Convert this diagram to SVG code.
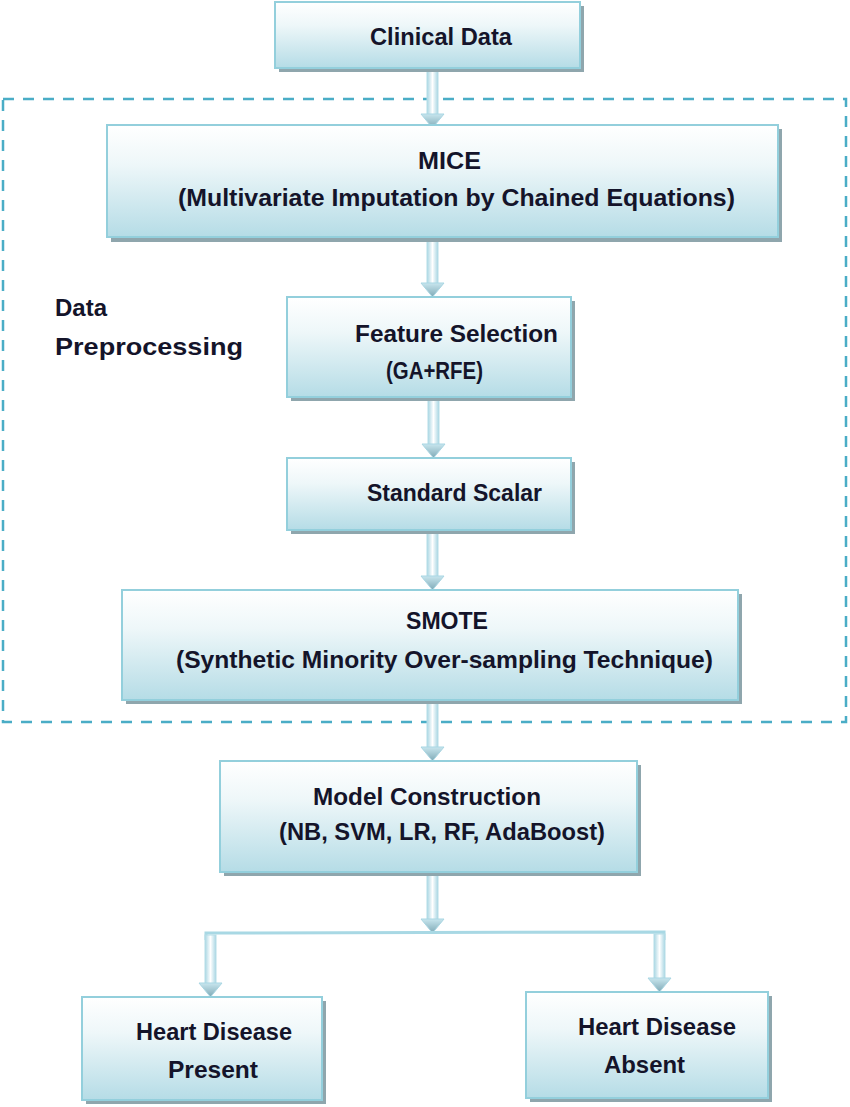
<svg xmlns="http://www.w3.org/2000/svg" width="850" height="1107" viewBox="0 0 850 1107">
<defs>
<linearGradient id="boxg" x1="0" y1="0" x2="0" y2="1">
<stop offset="0" stop-color="#ffffff"/>
<stop offset="0.35" stop-color="#eef7f9"/>
<stop offset="1" stop-color="#b5dce6"/>
</linearGradient>
<linearGradient id="arrg" x1="0" y1="0" x2="1" y2="0">
<stop offset="0" stop-color="#a9d6e3"/>
<stop offset="0.5" stop-color="#ffffff"/>
<stop offset="1" stop-color="#a9d6e3"/>
</linearGradient>
<linearGradient id="headg" x1="0" y1="0" x2="0" y2="1">
<stop offset="0" stop-color="#c8e6ee"/>
<stop offset="1" stop-color="#7fa9b6"/>
</linearGradient>
</defs>
<style>
.shadow{fill:#8fa6ad;}
.box{fill:url(#boxg);stroke:#93cfdc;stroke-width:2;}
.t{font-family:"Liberation Sans",Arial,sans-serif;font-weight:bold;font-size:24px;fill:#14142a;}
.shaft{fill:url(#arrg);stroke:#b5dde7;stroke-width:1;}
.head{fill:url(#headg);stroke:#a9d6e3;stroke-width:1;}
.dash{fill:none;stroke:#4aadc6;stroke-width:2.5;stroke-dasharray:11 9;}
.branch{fill:none;stroke:#a8d8e4;stroke-width:3;}
</style>
<rect class="dash" x="3" y="99" width="843" height="623"/>
<text class="t" x="55" y="316">Data</text>
<text class="t" x="55" y="355" textLength="188" lengthAdjust="spacingAndGlyphs">Preprocessing</text>
<g id="connectors">
<g id="a1"><rect class="shaft" x="427" y="68" width="11" height="48"/><polygon class="head" points="421,114 444,114 432.5,128"/></g>
<g id="a2"><rect class="shaft" x="427" y="239" width="11" height="46"/><polygon class="head" points="421,283 444,283 432.5,297"/></g>
<g id="a3"><rect class="shaft" x="428" y="399" width="11" height="47"/><polygon class="head" points="422,444 445,444 433.5,458"/></g>
<g id="a4"><rect class="shaft" x="427" y="532" width="11" height="46"/><polygon class="head" points="421,576 444,576 432.5,590"/></g>
<g id="a5"><rect class="shaft" x="427" y="702" width="11" height="47"/><polygon class="head" points="421,747 444,747 432.5,761"/></g>
<g id="a6"><rect class="shaft" x="427" y="874" width="11" height="47"/><polygon class="head" points="421,919 444,919 432.5,933"/></g>
<polyline class="branch" points="206,940 206,933 664,932 664,940"/>
<g id="a7"><rect class="shaft" x="205" y="935" width="11" height="49"/><polygon class="head" points="199,983 222,983 210.5,997"/></g>
<g id="a8"><rect class="shaft" x="654" y="934" width="11" height="45"/><polygon class="head" points="648,978 671,978 659.5,992"/></g>
</g>
<g id="n-clinical">
<rect class="shadow" x="279" y="6" width="305" height="66"/>
<rect class="box" x="275" y="2" width="305" height="66"/>
<text class="t" x="370" y="45" textLength="142" lengthAdjust="spacingAndGlyphs">Clinical Data</text>
</g>
<g id="n-mice">
<rect class="shadow" x="111" y="129" width="671" height="113"/>
<rect class="box" x="107" y="125" width="671" height="112"/>
<text class="t" x="418" y="169" textLength="63" lengthAdjust="spacingAndGlyphs">MICE</text>
<text class="t" x="178" y="206" textLength="557" lengthAdjust="spacingAndGlyphs">(Multivariate Imputation by Chained Equations)</text>
</g>
<g id="n-feature">
<rect class="shadow" x="291" y="301" width="284" height="100"/>
<rect class="box" x="287" y="297" width="284" height="100"/>
<text class="t" x="355" y="342" textLength="203" lengthAdjust="spacingAndGlyphs">Feature Selection</text>
<text class="t" x="386" y="379" textLength="97" lengthAdjust="spacingAndGlyphs">(GA+RFE)</text>
</g>
<g id="n-scalar">
<rect class="shadow" x="291" y="462" width="284" height="72"/>
<rect class="box" x="287" y="458" width="284" height="72"/>
<text class="t" x="367" y="501" textLength="175" lengthAdjust="spacingAndGlyphs">Standard Scalar</text>
</g>
<g id="n-smote">
<rect class="shadow" x="126" y="594" width="616" height="110"/>
<rect class="box" x="122" y="590" width="616" height="110"/>
<text class="t" x="406" y="629" textLength="82" lengthAdjust="spacingAndGlyphs">SMOTE</text>
<text class="t" x="176" y="668" textLength="537" lengthAdjust="spacingAndGlyphs">(Synthetic Minority Over-sampling Technique)</text>
</g>
<g id="n-model">
<rect class="shadow" x="224" y="765" width="417" height="111"/>
<rect class="box" x="220" y="761" width="417" height="111"/>
<text class="t" x="313" y="805" textLength="228" lengthAdjust="spacingAndGlyphs">Model Construction</text>
<text class="t" x="279" y="840" textLength="326" lengthAdjust="spacingAndGlyphs">(NB, SVM, LR, RF, AdaBoost)</text>
</g>
<g id="n-present">
<rect class="shadow" x="86" y="1001" width="240" height="103"/>
<rect class="box" x="82" y="997" width="240" height="103"/>
<text class="t" x="136" y="1040" textLength="156" lengthAdjust="spacingAndGlyphs">Heart Disease</text>
<text class="t" x="168" y="1078" textLength="90" lengthAdjust="spacingAndGlyphs">Present</text>
</g>
<g id="n-absent">
<rect class="shadow" x="530" y="996" width="242" height="106"/>
<rect class="box" x="526" y="992" width="242" height="106"/>
<text class="t" x="578" y="1035" textLength="158" lengthAdjust="spacingAndGlyphs">Heart Disease</text>
<text class="t" x="604" y="1073" textLength="81" lengthAdjust="spacingAndGlyphs">Absent</text>
</g>
</svg>
